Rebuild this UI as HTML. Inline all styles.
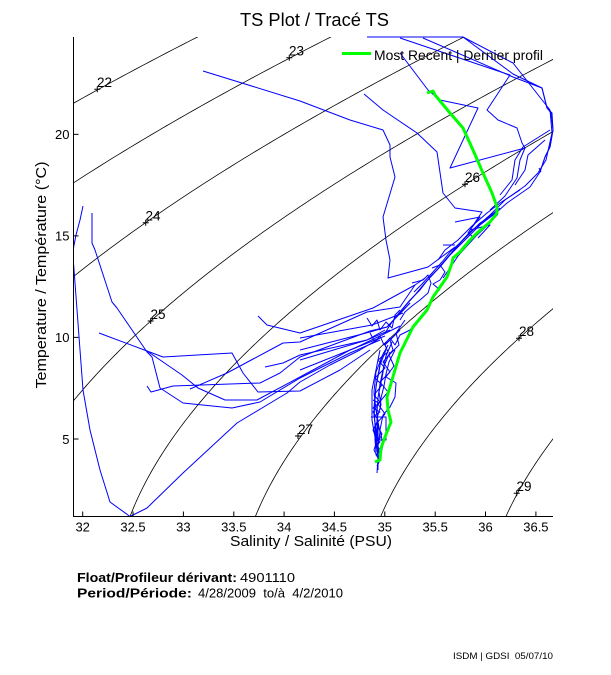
<!DOCTYPE html>
<html>
<head>
<meta charset="utf-8">
<style>
html,body{margin:0;padding:0;background:#fff;}
svg{display:block;}
text{font-family:"Liberation Sans",Arial,sans-serif;fill:#000;}
</style>
</head>
<body>
<svg id="chart" xmlns="http://www.w3.org/2000/svg" width="611" height="675" viewBox="0 0 611 675">
<defs>
<clipPath id="pa"><rect x="73" y="37" width="480" height="479.5"/></clipPath>
</defs>
<rect x="0" y="0" width="611" height="675" fill="#fff"/>

<!-- density contours (generated) -->
<g id="contours" clip-path="url(#pa)" fill="none" stroke="#000" stroke-width="0.8"></g>

<!-- contour markers -->
<g stroke="#000" stroke-width="1" fill="none">
<path d="M94.3,89.3h6M97.3,86.3v6"/>
<path d="M286.3,57.7h6M289.3,54.7v6"/>
<path d="M142.7,222.7h6M145.7,219.7v6"/>
<path d="M147.7,321h6M150.7,318v6"/>
<path d="M462,184.3h6M465,181.3v6"/>
<path d="M295,436h6M298,433v6"/>
<path d="M516,338.3h6M519,335.3v6"/>
<path d="M513.7,493.3h6M516.7,490.3v6"/>
</g>
<g font-size="13.5">
<text x="97" y="87">22</text>
<text x="289" y="55.5">23</text>
<text x="145.5" y="220.5">24</text>
<text x="150.5" y="319">25</text>
<text x="465" y="182">26</text>
<text x="298" y="434">27</text>
<text x="519" y="336">28</text>
<text x="516.5" y="491">29</text>
</g>

<!-- blue profiles -->
<g fill="none" stroke="#0000ff" stroke-width="1" stroke-linejoin="round">
<polyline points="83,206 80,220 76,235 73.5,248 73.5,263 83,390 90,430 100,470 110,502 130,516.5 147,508 183,473 237,423 287,393 300,382 330,365 360,350 380,338"/>
<polyline points="92,213 92,243 95,250 112,302 117,308 147,352 152,357 160,388 183,403 232,408 260,402 300,378 350,353 380,340"/>
<polyline points="99,333 147,351 163,357 232,353 243,373 258,392 300,391 340,370 370,350"/>
<polyline points="147,351 182,375 198,388 225,400 257,400 300,377 350,350 385,336"/>
<polyline points="147,386 151,392 173,386 260,383 280,373 300,357 370,331 387,327 410,303"/>
<polyline points="190,389 227,373 283,343 300,342 367,312 400,307 415,285"/>
<polyline points="258,316 267,325 300,333 373,308 415,285 425,278"/>
<polyline points="265,367 283,363 300,355 367,340 385,330"/>
<polyline points="300,338 372,325 385,320 403,313"/>
<polyline points="300,350 370,332 387,327 410,303"/>
<polyline points="300,360 367,340 390,330"/>
<polyline points="300,370 355,348 382,335 400,326"/>
<!-- long top path -->
<polyline points="203,71 300,101 350,120 383,130 390,145 390,157 395,177 383,217 386,240 390,260 388,278 428,267 455,247"/>
<polyline points="364,94 383,110 417,133 437,152 443,193 455,208 482,212 468,233 473,237"/>
<polyline points="400,53 428,90 440,100 478,108 450,168 525,148 520,160 517,178 505,196 490,210"/>
<!-- right envelope -->
<polyline points="367,37 463,37 513,74 542,88 547,108 552,113 553,130 550,147 545,157 540,172 530,187 507,203 497,212 480,225 465,240 450,255"/>
<polyline points="423,38 513,77 542,88 547,108 551,113 553,130 550,147 545,157 540,172"/>
<polyline points="463,37 513,63 550,110 552,133 546,160 538,173 525,186 505,200"/>
<polyline points="400,38 510,75 487,110 498,120 517,128 522,143 525,148"/>
<polyline points="550,130 523,147 515,160 512,180 500,195"/>
<polyline points="545,140 528,155 525,170 515,185"/>
<polyline points="539,168 541,172"/>
<!-- bundle along green -->
<polyline points="497,212 480,223 463,240 450,255 440,267 430,277 420,290 410,300 400,312 392,322 385,333"/>
<polyline points="500,208 485,220 470,232 458,245 447,258 437,270 425,283 415,295 405,306 395,318"/>
<polyline points="505,200 490,215 475,228 460,243 450,252 442,262 433,272 422,284 414,292"/>
<polyline points="520,190 500,203 487,213 472,226 458,240 445,250 438,260"/>
<polyline points="498,214 488,225 476,236 466,247 458,256 450,268 443,278"/>
<polyline points="455,222 480,217 470,230 490,225 478,238"/>
<polyline points="443,245 455,245"/>
<!-- jagged convergence -->
<polyline points="367,318 372,326 377,320 380,330 386,322 392,328 395,315 400,310"/>
<polyline points="370,333 375,342 380,336 384,345 390,338 395,345 400,335 410,330 420,318"/>
<polyline points="412,283 423,280 428,275 431,283 428,293 420,300 412,306 405,312 400,320"/>
<polyline points="432,268 440,265 445,272 440,280 433,284 440,290"/>
<!-- spike -->
<polyline points="395,335 385,345 388,352 378,360 385,368 375,378 382,385 374,395 380,402 373,412 378,420 373,430 377,440 374,450 378,458 377,473"/>
<polyline points="400,330 390,340 393,350 383,362 390,372 380,382 388,392 378,404 385,414 376,424 382,434 376,446 380,455 378,465"/>
<polyline points="405,320 396,333 399,345 389,355 394,366 386,377 396,383 395,397 390,407 383,415 380,430 383,445 379,462"/>
<polyline points="380,350 372,390 372,420 375,437 378,450 378,470"/>
<polyline points="377,417 386,417 386,440 377,440 377,417"/>
<polyline points="371,417 382,417"/>
<polyline points="384,352 376,372 374,392 376,410 379,428"/>
<polyline points="388,345 381,358 379,372 376,386 375,400 374,415 376,430 376,445 379,458"/>
<polyline points="392,342 386,356 383,370 380,384 378,398 377,412 378,426 378,440 377,455"/>
<polyline points="386,350 380,365 377,380 375,395 374,408 375,425 375,440 376,452"/>
<polyline points="390,352 384,366 382,378 379,392 381,405 377,418 380,432 378,446 380,456"/>
<polyline points="395,350 389,362 386,374 384,386 381,398 380,410"/>
<polyline points="373,400 379,403 373,408 380,412 374,416"/>
<polyline points="376,440 380,442 376,446 381,450 376,455 380,460 377,466"/>
</g>

<!-- most recent profile -->
<polyline fill="none" stroke="#00ff00" stroke-width="3" stroke-linejoin="round" points="427,93 433,91 435,95 450,113 463,128 473,150 483,173 492,193 497,207 497,213 490,222 477,233 470,240 460,252 453,258 452,263 447,277 433,297 427,310 413,327 400,353 392,380 387,397 388,410 391,422 385,437 381,448 380,460 375,462"/>

<!-- legend -->
<line x1="342" y1="53.5" x2="371" y2="53.5" stroke="#00ff00" stroke-width="3"/>
<text x="374" y="60" font-size="13.5" textLength="169" lengthAdjust="spacingAndGlyphs">Most Recent | Dernier profil</text>

<!-- axes -->
<g stroke="#000" stroke-width="1" fill="none">
<line x1="73.5" y1="37" x2="73.5" y2="517"/>
<line x1="73" y1="516.5" x2="553" y2="516.5"/>
<path d="M82.7,516.5v-5M133,516.5v-5M183.4,516.5v-5M233.8,516.5v-5M284.1,516.5v-5M334.4,516.5v-5M384.8,516.5v-5M435.2,516.5v-5M485.5,516.5v-5M535.9,516.5v-5"/>
<path d="M73.5,439h5M73.5,337.4h5M73.5,235.9h5M73.5,134.4h5"/>
</g>
<g font-size="13" text-anchor="middle">
<text x="82.7" y="531.5">32</text>
<text x="133" y="531.5">32.5</text>
<text x="183.4" y="531.5">33</text>
<text x="233.8" y="531.5">33.5</text>
<text x="284.1" y="531.5">34</text>
<text x="334.4" y="531.5">34.5</text>
<text x="384.8" y="531.5">35</text>
<text x="435.2" y="531.5">35.5</text>
<text x="485.5" y="531.5">36</text>
<text x="535.9" y="531.5">36.5</text>
</g>
<g font-size="13" text-anchor="end">
<text x="69.5" y="443.8">5</text>
<text x="69.5" y="342.2">10</text>
<text x="69.5" y="240.7">15</text>
<text x="69.5" y="139.2">20</text>
</g>

<text x="230" y="546" font-size="15" textLength="162" lengthAdjust="spacingAndGlyphs">Salinity / Salinité (PSU)</text>
<text transform="translate(46,275) rotate(-90)" text-anchor="middle" font-size="15" textLength="227" lengthAdjust="spacingAndGlyphs">Temperature / Température (°C)</text>
<text x="240" y="26" font-size="18" textLength="149" lengthAdjust="spacingAndGlyphs">TS Plot / Tracé TS</text>

<!-- footer -->
<text x="77" y="582" font-size="12.5" font-weight="bold" textLength="160" lengthAdjust="spacingAndGlyphs">Float/Profileur dérivant:</text>
<text x="240" y="582" font-size="12.5" textLength="55" lengthAdjust="spacingAndGlyphs">4901110</text>
<text x="77" y="597.5" font-size="12.5" font-weight="bold" textLength="115" lengthAdjust="spacingAndGlyphs">Period/Période:</text>
<text x="198" y="597.5" font-size="12.5" xml:space="preserve" textLength="145" lengthAdjust="spacingAndGlyphs">4/28/2009&#160; to/à&#160; 4/2/2010</text>
<text x="453" y="659" font-size="9" xml:space="preserve" textLength="100" lengthAdjust="spacingAndGlyphs">ISDM | GDSI&#160; 05/07/10</text>
</svg>
<script>
(function(){
  function rho(S,T){
    var rw = 999.842594 + 6.793952e-2*T - 9.095290e-3*T*T + 1.001685e-4*T*T*T - 1.120083e-6*T*T*T*T + 6.536332e-9*T*T*T*T*T;
    var A = 0.824493 - 4.0899e-3*T + 7.6438e-5*T*T - 8.2467e-7*T*T*T + 5.3875e-9*T*T*T*T;
    var B = -5.72466e-3 + 1.0227e-4*T - 1.6546e-6*T*T;
    var C = 4.8314e-4;
    return rw + A*S + B*Math.pow(S,1.5) + C*S*S;
  }
  var X=function(S){return 82.7+(S-32)*100.7;};
  var Y=function(T){return 439-(T-5)*20.31;};
  var g=document.getElementById('contours');
  for(var s=20;s<=31;s++){
    var pts=[];
    for(var T=-1;T<=28.001;T+=0.2){
      var lo=10,hi=45;
      for(var i=0;i<45;i++){var m=(lo+hi)/2; if(rho(m,T)-1000<s) lo=m; else hi=m;}
      pts.push(X(lo).toFixed(2)+','+Y(T).toFixed(2));
    }
    var p=document.createElementNS('http://www.w3.org/2000/svg','polyline');
    p.setAttribute('points',pts.join(' '));
    g.appendChild(p);
  }
})();
</script>
</body>
</html>
